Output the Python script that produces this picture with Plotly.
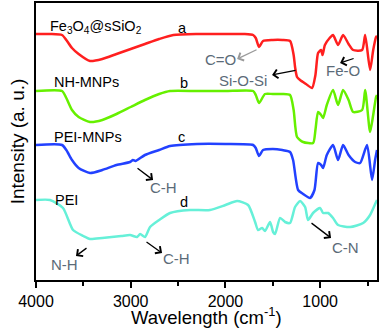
import plotly.graph_objects as go

# ---- data (wavenumber cm^-1, offset intensity a.u.) ----
wn_a = [4000, 3850, 3725, 3680, 3620, 3550, 3430, 3300, 3150, 3000, 2850, 2700, 2550, 2300, 2000, 1800,
        1708, 1680, 1645, 1603, 1500, 1400, 1318, 1280, 1265, 1244, 1212, 1150, 1086, 1050, 1022, 990,
        975, 950, 900, 864, 811, 758, 700, 652, 557, 525, 473, 440, 410, 400]
int_a = [266, 266, 265, 260, 252, 246, 239, 241, 246, 251, 256, 261, 265, 266, 266, 266,
         265, 262, 253, 259, 260, 260, 259, 245, 233, 223, 220, 216, 212, 225, 247, 250,
         245, 255, 262, 265, 255, 265, 256, 250, 250, 265, 230, 250, 263, 264]

wn_b = [4000, 3725, 3680, 3620, 3550, 3430, 3300, 3150, 3000, 2850, 2700, 2585, 2300, 2000, 1708, 1680,
        1645, 1582, 1500, 1400, 1318, 1280, 1244, 1180, 1075, 1050, 1022, 990, 969, 930, 864, 811,
        758, 700, 652, 557, 525, 473, 440, 410, 400]
int_b = [209, 209, 202, 190, 183, 178, 180, 186, 193, 200, 206, 209, 209, 209, 209, 205,
         197, 206, 206, 206, 205, 190, 163, 158, 157, 170, 188, 185, 182, 195, 210, 195,
         210, 200, 188, 190, 210, 168, 185, 203, 205]

wn_c = [4000, 3725, 3680, 3620, 3550, 3430, 3300, 3150, 3007, 2976, 2950, 2850, 2700, 2585, 2300, 2000,
        1708, 1680, 1645, 1603, 1500, 1400, 1318, 1286, 1233, 1180, 1107, 1060, 1022, 990, 969, 930,
        864, 811, 758, 700, 631, 578, 505, 452, 420, 400]
int_c = [155, 155, 150, 140, 132, 127, 130, 135, 138, 140, 139, 145, 150, 154, 156, 156,
         155, 152, 144, 150, 151, 150, 148, 140, 110, 106, 102, 110, 137, 135, 132, 145,
         155, 140, 155, 145, 138, 137, 155, 120, 140, 150]

wn_d = [4000, 3852, 3715, 3609, 3500, 3430, 3300, 3100, 3007, 2933, 2900, 2849, 2796, 2700, 2585, 2374,
        2163, 2000, 1877, 1761, 1687, 1656, 1613, 1582, 1529, 1497, 1476, 1423, 1371, 1318, 1265, 1212,
        1159, 1128, 1075, 1001, 969, 916, 864, 811, 684, 546, 473, 410, 400]
int_d = [100, 100, 92, 70, 64, 61, 62, 64, 65, 63, 66, 63, 73, 80, 87, 90,
         90, 95, 99, 95, 78, 70, 72, 69, 78, 68, 66, 82, 78, 77, 93, 99,
         93, 80, 87, 92, 87, 87, 82, 75, 73, 77, 85, 98, 100]

series_names = ["Fe3O4@sSiO2", "NH-MNPs", "PEI-MNPs", "PEI"]
series_colors = ["#ff1f1f", "#66f000", "#2241ff", "#66f0d8"]

fig = go.Figure()
for xs, ys, nm, col in zip([wn_a, wn_b, wn_c, wn_d], [int_a, int_b, int_c, int_d], series_names, series_colors):
    fig.add_trace(go.Scatter(x=xs, y=ys, mode="lines", name=nm,
                             line=dict(color=col, width=2.5, shape="spline", smoothing=0.6),
                             showlegend=False))

FONT = "Liberation Sans, Arial, sans-serif"
GRAY = "#5b6b78"
lab = dict(font=dict(family=FONT, size=14.5, color="black"), showarrow=False, xref="x", yref="y")
annots = [
    dict(text="Fe<sub>3</sub>O<sub>4</sub>@sSiO<sub>2</sub>", x=3873, y=273, xanchor="left", **lab),
    dict(text="a", x=2458, y=272, **lab),
    dict(text="NH-MNPs", x=3831, y=218, xanchor="left", **lab),
    dict(text="b", x=2437, y=217, **lab),
    dict(text="PEI-MNPs", x=3831, y=163, xanchor="left", **lab),
    dict(text="c", x=2469, y=163, **lab),
    dict(text="PEI", x=3820, y=100, xanchor="left", **lab),
    dict(text="d", x=2437, y=98, **lab),
]
glab = dict(font=dict(family=FONT, size=15, color=GRAY), showarrow=False, xref="x", yref="y")
annots += [
    dict(text="C=O", x=2057, y=241, **glab),
    dict(text="Si-O-Si", x=1814, y=220, **glab),
    dict(text="Fe-O", x=758, y=230, **glab),
    dict(text="C-H", x=2659, y=113, **glab),
    dict(text="N-H", x=3694, y=36, **glab),
    dict(text="C-H", x=2522, y=42, **glab),
    dict(text="C-N", x=737, y=53, **glab),
]
# x-axis title as paper annotation
annots.append(dict(text="Wavelength (cm<sup>-1</sup>)", xref="paper", yref="paper", x=0.5, y=-0.131,
                   xanchor="center", yanchor="middle", showarrow=False,
                   font=dict(size=18.5, family=FONT, color="black")))
arrows = [  # head x, head y, tail x, tail y, color
    (1877, 241, 1656, 251, "#9a9a9a"),
    (1508, 225, 1244, 230, "black"),
    (790, 237, 631, 242, "black"),
    (2764, 120, 2944, 133, "black"),
    (3578, 44, 3451, 53, "black"),
    (2669, 47, 2849, 59, "black"),
    (885, 62, 1107, 78, "black"),
]
for hx, hy, tx, ty, c in arrows:
    annots.append(dict(x=hx, y=hy, ax=tx, ay=ty, xref="x", yref="y", axref="x", ayref="y",
                       text="", showarrow=True, arrowhead=4, arrowsize=1.3, arrowwidth=1.3,
                       arrowcolor=c))

fig.update_layout(
    width=382, height=328,
    margin=dict(l=36, r=5, t=3, b=48, autoexpand=False),
    paper_bgcolor="white", plot_bgcolor="white",
    font=dict(family=FONT, color="black"),
    annotations=annots,
    xaxis=dict(range=[4000, 400], tickvals=[4000, 3000, 2000, 1000], ticks="outside", ticklen=6,
               tickwidth=1.5, tickcolor="black", showline=True, linecolor="black", linewidth=2,
               mirror=True, showgrid=False, zeroline=False, automargin=False,
               tickfont=dict(size=16, family=FONT),
               minor=dict(tickvals=[3500, 2500, 1500, 500], ticks="outside", ticklen=4, tickwidth=1.5,
                          tickcolor="black")),
    yaxis=dict(range=[20, 297], showticklabels=False, ticks="", showline=True, linecolor="black",
               linewidth=2, mirror=True, showgrid=False, zeroline=False, automargin=False,
               title=dict(text="Intensity (a. u.)", font=dict(size=19, family=FONT), standoff=4)),
)

fig.write_html("out.html", config={"responsive": False, "displayModeBar": False},
               post_script="document.body.style.margin='0';document.body.style.overflow='hidden';")
